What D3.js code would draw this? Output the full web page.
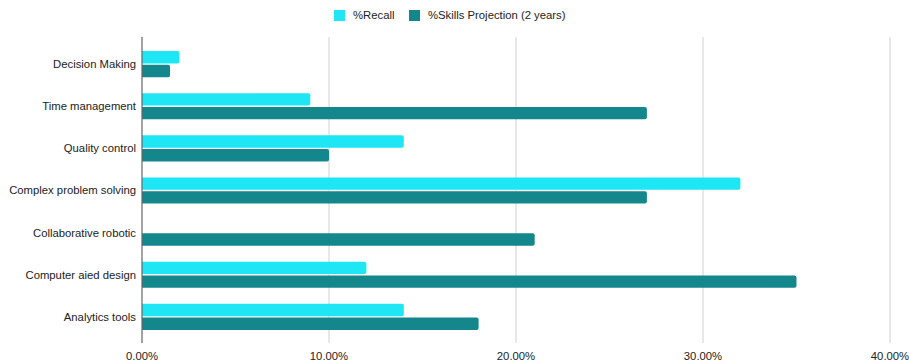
<!DOCTYPE html>
<html><head><meta charset="utf-8">
<script src="https://cdn.jsdelivr.net/npm/d3@7"></script>
<style>body{margin:0;background:#fff;} svg{display:block;font-family:"Liberation Sans",Arial,sans-serif;}</style>
</head><body>
<svg id="c" width="909" height="362"></svg>
<script>
const categories = ["Decision Making","Time management","Quality control","Complex problem solving","Collaborative robotic","Computer aied design","Analytics tools"];
const seriesNames = ["%Recall","%Skills Projection (2 years)"];
const recall = [0.02,0.09,0.14,0.32,0,0.12,0.14];
const projection = [0.015,0.27,0.10,0.27,0.21,0.35,0.18];
const xTicks = [0,0.1,0.2,0.3,0.4];
const colors = ["#1fe6f4","#14878d"];

const svg = d3.select("#c");
const m = {l:142, r:890, t:43, b:338};
const x = d3.scaleLinear().domain([0,0.4]).range([m.l,m.r]);
const y = d3.scaleBand().domain(categories).range([m.t,m.b]).paddingInner(0.38).paddingOuter(0.19);
const sub = d3.scaleBand().domain([0,1]).range([0,y.bandwidth()]).paddingInner(0.1);

svg.append("g").selectAll("line").data(xTicks.slice(1)).join("line")
  .attr("x1",d=>x(d)).attr("x2",d=>x(d)).attr("y1",37).attr("y2",343)
  .attr("stroke","#d0d0d0").attr("stroke-width",1);

function barPath(x0,x1,y0,h){
  const w = x1-x0; if(w<=0) return "";
  const r = Math.min(2,w);
  return `M${x0},${y0}H${x1-r}Q${x1},${y0} ${x1},${y0+r}V${y0+h-r}Q${x1},${y0+h} ${x1-r},${y0+h}H${x0}Z`;
}
const data = [recall, projection];
data.forEach((vals,si)=>{
  svg.append("g").selectAll("path").data(categories).join("path")
    .attr("d",(c,i)=>barPath(x(0),x(vals[i]),y(c)+sub(si),sub.bandwidth()))
    .attr("fill",colors[si]);
});

svg.append("line").attr("x1",x(0)).attr("x2",x(0)).attr("y1",37).attr("y2",343)
  .attr("stroke","#666").attr("stroke-width",1.2);

svg.append("g").selectAll("text").data(categories).join("text")
  .attr("x",136).attr("y",c=>y(c)+y.bandwidth()/2).attr("dy","0.35em")
  .attr("text-anchor","end").attr("font-size",11.3).attr("fill","#222").text(c=>c);

const fmt = d3.format(".2%");
svg.append("g").selectAll("text").data(xTicks).join("text")
  .attr("x",d=>x(d)).attr("y",360).attr("text-anchor","middle")
  .attr("font-size",11.3).attr("fill","#222").text(d=>fmt(d));

const lg = svg.append("g");
const legendX = [334,409];
seriesNames.forEach((n,i)=>{
  lg.append("rect").attr("x",legendX[i]).attr("y",10).attr("width",11).attr("height",11).attr("fill",colors[i]);
  lg.append("text").attr("x",legendX[i]+19).attr("y",15.5).attr("dy","0.35em")
    .attr("font-size",11.3).attr("fill","#222").text(n);
});
</script>
</body></html>
